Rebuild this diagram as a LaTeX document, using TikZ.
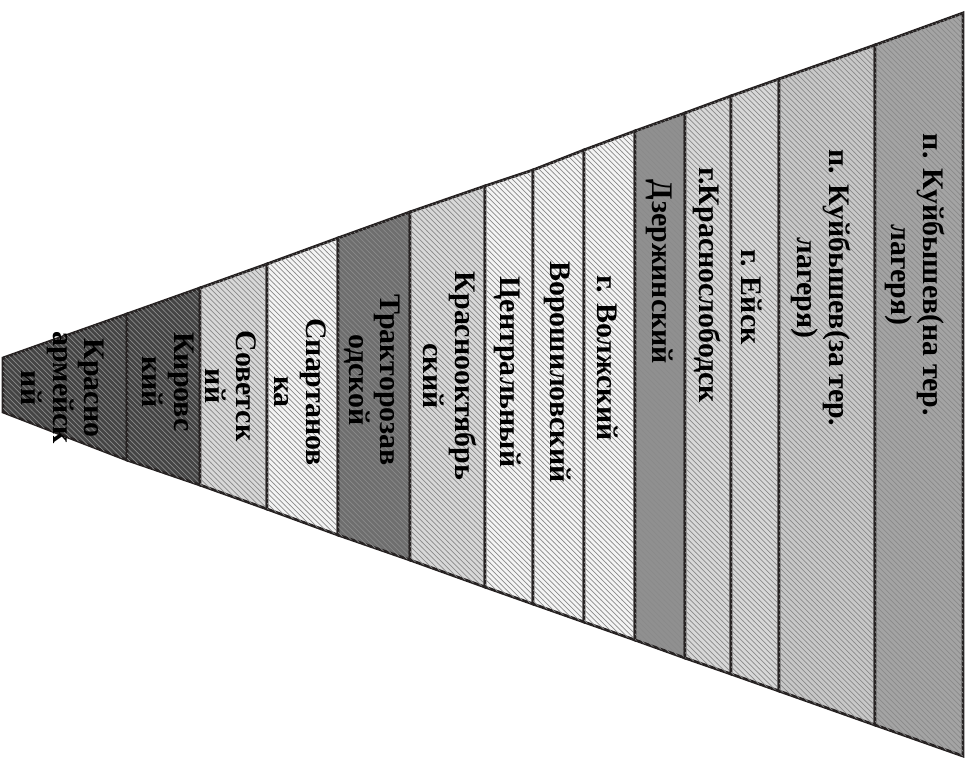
\documentclass[tikz,border=0pt]{standalone}
\usepackage{fontspec}
\setmainfont{Liberation Serif}
\usepackage{tikz}
\usetikzlibrary{calc, patterns}
\definecolor{cline}{HTML}{262222}
\definecolor{cdark}{HTML}{444444}
\definecolor{cmiddark}{HTML}{6E6E6E}
\definecolor{cmid}{HTML}{909090}
\definecolor{cmidlight}{HTML}{A4A4A4}
\definecolor{clight}{HTML}{D8D8D8}
\definecolor{clighter}{HTML}{C8C8C8}
\definecolor{cpale}{HTML}{F4F4F4}
\definecolor{chatch}{HTML}{8A8A8A}

\begin{document}
\begin{tikzpicture}[
    x=0.02cm, y=-0.02cm,
    band/.style={draw=cline, line width=1.6pt, line join=miter,
                 postaction={pattern=north west lines, pattern color=chatch, fill opacity=0.35}},
    lbl/.style={rotate=-90, align=center, text=black, inner sep=0pt,
                font=\bfseries\fontsize{17}{18}\selectfont}
]

\useasboundingbox (0,0) rectangle (974,758);

% Edges of the bands (top and bottom)
\coordinate (t0) at (3,358);    \coordinate (b0) at (3,412);
\coordinate (t1) at (127,314);  \coordinate (b1) at (127,460);
\coordinate (t2) at (200,288);  \coordinate (b2) at (200,485);
\coordinate (t3) at (267,264);  \coordinate (b3) at (267,509);
\coordinate (t4) at (338,238);  \coordinate (b4) at (338,535);
\coordinate (t5) at (410,212);  \coordinate (b5) at (410,560);
\coordinate (t6) at (485,186);  \coordinate (b6) at (485,587);
\coordinate (t7) at (533,170);  \coordinate (b7) at (533,604);
\coordinate (t8) at (584,150);  \coordinate (b8) at (584,622);
\coordinate (t9) at (635,131);  \coordinate (b9) at (635,640);
\coordinate (t10) at (685,113); \coordinate (b10) at (685,658);
\coordinate (t11) at (731,96);  \coordinate (b11) at (731,674);
\coordinate (t12) at (779,79);  \coordinate (b12) at (779,691);
\coordinate (t13) at (875,45);  \coordinate (b13) at (875,725);
\coordinate (t14) at (963,13);  \coordinate (b14) at (963,756);

% Bands, from the apex to the base
\filldraw[band, fill=cdark] (t0) -- (t1) -- (b1) -- (b0) -- cycle;
\filldraw[band, fill=cdark] (t1) -- (t2) -- (b2) -- (b1) -- cycle;
\filldraw[band, fill=clight] (t2) -- (t3) -- (b3) -- (b2) -- cycle;
\filldraw[band, fill=cpale] (t3) -- (t4) -- (b4) -- (b3) -- cycle;
\filldraw[band, fill=cmiddark] (t4) -- (t5) -- (b5) -- (b4) -- cycle;
\filldraw[band, fill=clight] (t5) -- (t6) -- (b6) -- (b5) -- cycle;
\filldraw[band, fill=cpale] (t6) -- (t7) -- (b7) -- (b6) -- cycle;
\filldraw[band, fill=cpale] (t7) -- (t8) -- (b8) -- (b7) -- cycle;
\filldraw[band, fill=cpale] (t8) -- (t9) -- (b9) -- (b8) -- cycle;
\filldraw[band, fill=cmid] (t9) -- (t10) -- (b10) -- (b9) -- cycle;
\filldraw[band, fill=clight] (t10) -- (t11) -- (b11) -- (b10) -- cycle;
\filldraw[band, fill=clight] (t11) -- (t12) -- (b12) -- (b11) -- cycle;
\filldraw[band, fill=clighter] (t12) -- (t13) -- (b13) -- (b12) -- cycle;
\filldraw[band, fill=cmidlight] (t13) -- (t14) -- (b14) -- (b13) -- cycle;

% Labels
\node[lbl] (krasnoarm) at (63,388) {Красно\\армейск\\ий};
\node[lbl] (kirov) at (168,382) {Кировс\\кий};
\node[lbl] (sovet) at (231,386) {Советск\\ий};
\node[lbl] (spartan) at (300,392) {Спартанов\\ка};
\node[lbl] (traktor) at (372,380) {Тракторозав\\одской};
\node[lbl] (krasnookt) at (450,376) {Краснооктябрь\\ский};
\node[lbl] (centr) at (508,372) {Центральный};
\node[lbl] (vorosh) at (558,372) {Ворошиловский};
\node[lbl] (volzh) at (608,358) {г. Волжский};
\node[lbl] (dzerzh) at (660,272) {Дзержинский};
\node[lbl] (krsl) at (707,285) {г.Краснослободск};
\node[lbl] (eysk) at (752,297) {г. Ейск};
\node[lbl] (kuyb2) at (821,288) {п. Куйбышев(за тер.\\лагеря)};
\node[lbl] (kuyb1) at (915,275) {п. Куйбышев(на тер.\\лагеря)};

\end{tikzpicture}
\end{document}
